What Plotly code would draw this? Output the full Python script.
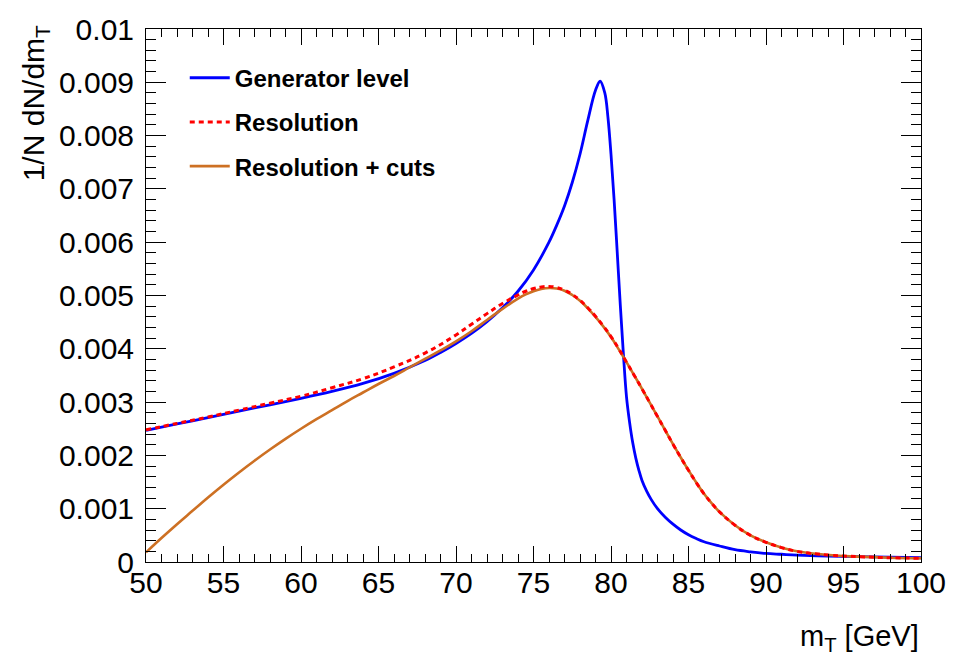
import plotly.graph_objects as go

# Transverse-mass spectra (normalised) for three levels of simulation
gen_x = [50, 52, 54, 56, 58, 60, 62, 64, 66, 68, 69, 70, 71, 72, 73, 74, 75, 76, 76.5,
         77, 77.5, 78, 78.5, 79, 79.3, 79.6, 79.8, 80.0, 80.2, 80.4, 80.6, 80.8, 81.0,
         81.2, 81.4, 81.6, 81.8, 82.0, 82.3, 82.6, 83.0, 83.5, 84, 84.5, 85, 85.5, 86,
         87, 88, 89, 90, 91, 92, 94, 96, 98, 100]
gen_y = [0.00247, 0.00259, 0.00271, 0.00283, 0.00295, 0.00307, 0.00320, 0.00335, 0.00354,
         0.00378, 0.00393, 0.00410, 0.00429, 0.00451, 0.00477, 0.00508, 0.00548, 0.00600,
         0.00632, 0.00668, 0.00712, 0.00765, 0.00828, 0.00885, 0.00902, 0.00880, 0.00835,
         0.00765, 0.00680, 0.00582, 0.00482, 0.00390, 0.00310, 0.00262, 0.00224, 0.00195,
         0.00172, 0.00153, 0.00133, 0.00117, 0.00100, 0.00084, 0.00071, 0.00060, 0.00051,
         0.00044, 0.00038, 0.00030, 0.00023, 0.00019, 0.00016, 0.000145, 0.00013, 0.00011,
         0.00010, 0.00009, 0.00008]

res_x = [50, 52, 54, 56, 58, 60, 62, 64, 66, 68, 70, 71, 72, 73, 74, 74.5, 75, 75.5, 76,
         76.5, 77, 77.5, 78, 78.5, 79, 79.5, 80, 80.5, 81, 81.5, 82, 82.5, 83, 83.5, 84,
         84.5, 85, 85.5, 86, 86.5, 87, 88, 89, 90, 91, 92, 94, 96, 98, 100]
res_y = [0.00248, 0.00260, 0.00272, 0.00285, 0.00298, 0.00311, 0.00327, 0.00344, 0.00366,
         0.00392, 0.00426, 0.00446, 0.00466, 0.00485, 0.00501, 0.00508, 0.00513, 0.00516,
         0.00517, 0.00515, 0.00510, 0.00502, 0.00491, 0.00477, 0.00461, 0.00443, 0.00423,
         0.00400, 0.00375, 0.00350, 0.00325, 0.00299, 0.00273, 0.00247, 0.00221, 0.00196,
         0.00172, 0.00149, 0.00128, 0.00110, 0.00094, 0.00069, 0.00050, 0.00037, 0.00027,
         0.00020, 0.00013, 0.00010, 0.00008, 0.00007]

cut_x = [50, 51, 52, 53, 54, 55, 56, 57, 58, 59, 60, 61, 62, 63, 64, 65, 66, 67, 68, 69,
         70, 71, 72, 73, 74, 74.5, 75, 75.5, 76, 76.5, 77, 77.5, 78, 78.5, 79, 79.5, 80,
         80.5, 81, 81.5, 82, 82.5, 83, 83.5, 84, 84.5, 85, 85.5, 86, 86.5, 87, 88, 89,
         90, 91, 92, 94, 96, 98, 100]
cut_y = [0.00018, 0.00045, 0.00071, 0.00096, 0.00121, 0.00145, 0.00168, 0.00190, 0.00211,
         0.00231, 0.00250, 0.00268, 0.00285, 0.00302, 0.00318, 0.00334, 0.00349, 0.00365,
         0.00381, 0.00397, 0.00414, 0.00433, 0.00454, 0.00475, 0.00494, 0.00502, 0.00508,
         0.00512, 0.00514, 0.00513, 0.00509, 0.00501, 0.00490, 0.00476, 0.00460, 0.00442,
         0.00422, 0.00399, 0.00375, 0.00350, 0.00325, 0.00299, 0.00273, 0.00247, 0.00221,
         0.00196, 0.00172, 0.00149, 0.00128, 0.00110, 0.00094, 0.00069, 0.00050, 0.00037,
         0.00027, 0.00020, 0.00013, 0.00010, 0.00008, 0.00007]

series_names = ["Generator level", "Resolution", "Resolution + cuts"]

x_ticks = [50, 55, 60, 65, 70, 75, 80, 85, 90, 95, 100]
y_ticks = [0, 0.001, 0.002, 0.003, 0.004, 0.005, 0.006, 0.007, 0.008, 0.009, 0.01]
y_tick_text = ["0", "0.001", "0.002", "0.003", "0.004", "0.005", "0.006", "0.007",
               "0.008", "0.009", "0.01"]

FONT = "Liberation Sans, Arial, Helvetica, sans-serif"

fig = go.Figure()
fig.add_trace(go.Scatter(
    x=gen_x, y=gen_y, mode="lines", name=series_names[0],
    line=dict(color="rgb(0,0,255)", width=2.8, shape="spline", smoothing=1.0),
    legendgroup="g1", legendrank=1))
fig.add_trace(go.Scatter(
    x=cut_x, y=cut_y, mode="lines", name=series_names[2],
    line=dict(color="rgb(205,112,35)", width=2.6, shape="spline", smoothing=1.2),
    legendgroup="g3", legendrank=3))
fig.add_trace(go.Scatter(
    x=res_x, y=res_y, mode="lines", name=series_names[1],
    line=dict(color="rgb(255,0,0)", width=3, dash="5px,4px", shape="spline", smoothing=1.2),
    legendgroup="g2", legendrank=2))

axis_common = dict(
    showline=True, linecolor="black", linewidth=1, mirror="allticks",
    ticks="inside", tickcolor="black", tickwidth=1,
    showgrid=False, zeroline=False,
    tickfont=dict(family=FONT, size=30, color="black"),
)

fig.update_xaxes(
    range=[50, 100], tickvals=x_ticks, ticklen=16,
    minor=dict(ticks="inside", dtick=1, ticklen=8, tickcolor="black", tickwidth=1, showgrid=False),
    ticklabelstandoff=-6,
    **axis_common)
fig.update_yaxes(
    range=[0, 0.01], tickvals=y_ticks, ticktext=y_tick_text, ticklen=20,
    minor=dict(ticks="inside", dtick=0.0002, ticklen=10, tickcolor="black", tickwidth=1, showgrid=False),
    ticklabelstandoff=5,
    **axis_common)

fig.add_annotation(
    text="1/N dN/dm<sub>T</sub>", xref="paper", yref="paper",
    x=-0.143, y=1.011, xanchor="center", yanchor="top", textangle=-90,
    showarrow=False, font=dict(family=FONT, size=30, color="black"))
fig.add_annotation(
    text="m<sub>T</sub> [GeV]", xref="paper", yref="paper",
    x=1.0, y=-0.143, xanchor="right", yanchor="middle",
    showarrow=False, font=dict(family=FONT, size=29, color="black"))

fig.update_layout(
    width=964, height=659,
    margin=dict(l=146, r=43, t=20, b=97),
    plot_bgcolor="white", paper_bgcolor="white",
    showlegend=True,
    legend=dict(
        x=0.05, y=0.95, xanchor="left", yanchor="top",
        bgcolor="rgba(255,255,255,0)", borderwidth=0,
        traceorder="grouped", tracegroupgap=10, itemwidth=40,
        font=dict(family=FONT, size=24, color="black", weight="bold"),
    ),
)

fig.write_html("out.html")
